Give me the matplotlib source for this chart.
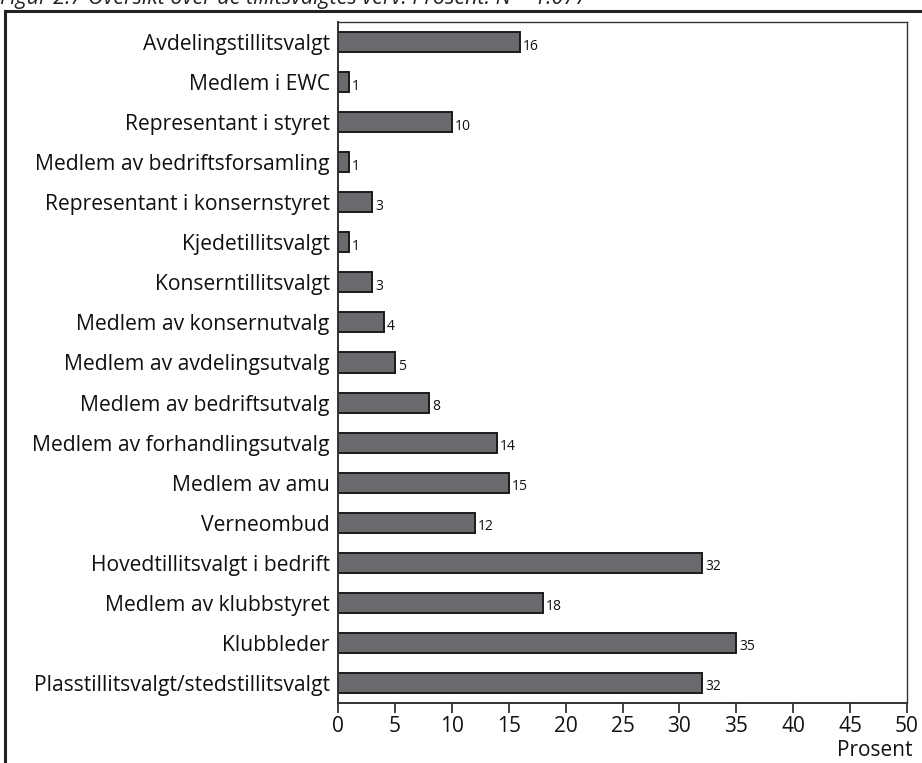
import numpy as np
import matplotlib.pyplot as plt
from matplotlib.patches import Rectangle

plt.rcParams['font.family'] = ['Open Sans', 'DejaVu Sans']

verv = ['Avdelingstillitsvalgt', 'Medlem i EWC', 'Representant i styret',
        'Medlem av bedriftsforsamling', 'Representant i konsernstyret',
        'Kjedetillitsvalgt', 'Konserntillitsvalgt', 'Medlem av konsernutvalg',
        'Medlem av avdelingsutvalg', 'Medlem av bedriftsutvalg',
        'Medlem av forhandlingsutvalg', 'Medlem av amu', 'Verneombud',
        'Hovedtillitsvalgt i bedrift', 'Medlem av klubbstyret', 'Klubbleder',
        'Plasstillitsvalgt/stedstillitsvalgt']
prosent = [16, 1, 10, 1, 3, 1, 3, 4, 5, 8, 14, 15, 12, 32, 18, 35, 32]
xticks = [0, 5, 10, 15, 20, 25, 30, 35, 40, 45, 50]

W, H = 922, 763
fig = plt.figure(figsize=(W / 100, H / 100), dpi=100)
ax = fig.add_axes([338 / W, 1 - 703 / H, (907 - 338) / W, (703 - 22) / H])

y = np.arange(len(verv))
ax.barh(y, prosent, height=0.5, color='#6a6a6e', edgecolor='#1a1a1a', linewidth=1.4)
for yi, v in zip(y, prosent):
    ax.text(v + 0.25, yi + 0.1, str(v), va='center', ha='left', fontsize=10, color='#111111')

ax.set_ylim(len(verv) - 0.5, -0.5)
ax.set_xlim(0, 50)
ax.set_yticks(y)
ax.set_yticklabels(verv, fontsize=15.2, color='#111111')
ax.tick_params(axis='y', length=0, pad=6)
ax.set_xticks(xticks)
ax.set_xticklabels([str(t) for t in xticks], fontsize=15, color='#111111')
ax.tick_params(axis='x', length=7, width=1.2, color='#222222', pad=2)
for s in ax.spines.values():
    s.set_linewidth(1.0)
    s.set_color('#333333')
ax.spines['left'].set_linewidth(1.4)
ax.spines['bottom'].set_linewidth(1.4)

fig.text(912 / W, 1 - 751 / H, 'Prosent', ha='right', va='center', fontsize=15, color='#111111')

# ramme rundt figuren
fig.patches.append(Rectangle((5 / W, -0.05), 1.0, 1 - 11 / H + 0.05, transform=fig.transFigure,
                             fill=False, edgecolor='#222222', linewidth=2.2))
fig.text(0, 1 - 4 / H, 'Figur 2.7 Oversikt over de tillitsvalgtes verv. Prosent. N = 1.077',
         ha='left', va='baseline', fontsize=15.5, style='italic', color='#222222')

fig.savefig('out.png', dpi=100)
